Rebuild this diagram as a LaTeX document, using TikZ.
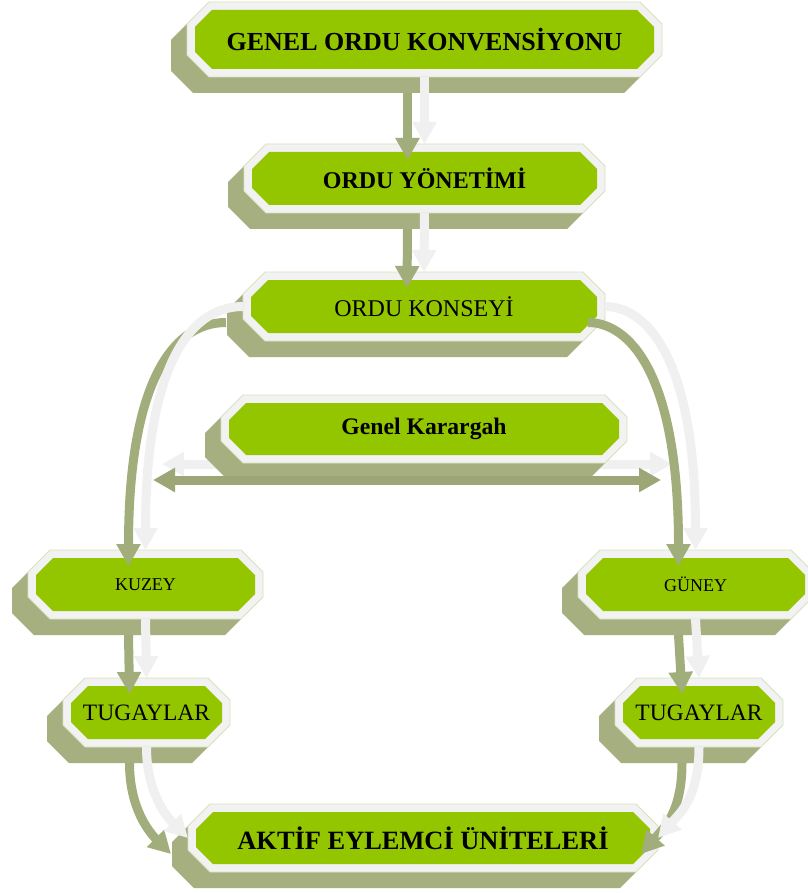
\documentclass[tikz,border=0pt]{standalone}
\usepackage{fontspec}
\setmainfont{Liberation Serif}
\usetikzlibrary{arrows.meta,calc,backgrounds}
\definecolor{boxgreen}{RGB}{148,198,0}
\definecolor{rimwhite}{RGB}{242,242,242}
\definecolor{rimedge}{RGB}{214,227,188}
\definecolor{shadowolive}{RGB}{165,175,127}
\definecolor{arrowolive}{RGB}{162,173,124}
\definecolor{arrowwhite}{RGB}{240,240,240}
\tikzset{
  bigtri/.tip={Triangle[length=22pt,width=23pt]},
  box/.style={rectangle, inner sep=0pt, outer sep=0pt, align=center},
  whitearrow/.style={draw=arrowwhite, line width=9pt, -bigtri},
  olivearrow/.style={draw=arrowolive, line width=9pt, -bigtri},
}
% #1 style, #2 node, #3 inset, #4 chamfer leg, #5 x offset, #6 y offset
\newcommand\octfill[6]{\path[#1]
  ($(#2.north west)+({#5+#3+#4},{#6+#3})$) -- ($(#2.north east)+({#5-#3-#4},{#6+#3})$) --
  ($(#2.north east)+({#5-#3},{#6+#3+#4})$) -- ($(#2.south east)+({#5-#3},{#6-#3-#4})$) --
  ($(#2.south east)+({#5-#3-#4},{#6-#3})$) -- ($(#2.south west)+({#5+#3+#4},{#6-#3})$) --
  ($(#2.south west)+({#5+#3},{#6-#3-#4})$) -- ($(#2.north west)+({#5+#3},{#6+#3+#4})$) -- cycle;}
\newcommand\boxdeco[1]{%
  \octfill{fill=shadowolive}{#1}{0}{22}{-16}{16}%
  \octfill{fill=rimwhite, draw=rimedge, line width=0.8pt}{#1}{0}{22}{0}{0}%
  \octfill{fill=boxgreen}{#1}{8}{17}{0}{0}}
\newcommand\conn[1]{%
  \draw[olivearrow, transform canvas={xshift=-17pt,yshift=-16pt}] #1;
  \draw[whitearrow] #1;}
\begin{document}
\begin{tikzpicture}[x=1pt,y=-1pt]
\useasboundingbox (0,0) rectangle (807,893);
% nodes
\node[box, minimum width=475pt, minimum height=75pt, font=\fontsize{26}{30}\selectfont\bfseries] (n1) at (424.5,39.5) {GENEL ORDU KONVENSİYONU};
\node[box, minimum width=361pt, minimum height=69pt, font=\fontsize{24}{28}\selectfont\bfseries] (n2) at (424.5,178.5) {ORDU YÖNETİMİ};
\node[box, minimum width=362pt, minimum height=69pt, font=\fontsize{24}{28}\selectfont] (n3) at (424,306.5) {ORDU KONSEYİ};
\node[box, minimum width=406pt, minimum height=68pt, font=\fontsize{23.7}{28}\selectfont\bfseries] (n4) at (424,429) {Genel Karargah};
\node[box, minimum width=235pt, minimum height=69pt, font=\fontsize{18}{22}\selectfont] (n5) at (145.5,584.5) {KUZEY};
\node[box, minimum width=167pt, minimum height=69pt, font=\fontsize{23.5}{28}\selectfont] (n6) at (146.5,712.5) {TUGAYLAR};
\node[box, minimum width=235pt, minimum height=69pt, font=\fontsize{18}{22}\selectfont] (n7) at (695.5,584.5) {GÜNEY};
\node[box, minimum width=168pt, minimum height=69pt, font=\fontsize{23.5}{28}\selectfont] (n8) at (699,712.5) {TUGAYLAR};
\node[box, minimum width=470pt, minimum height=68pt, font=\fontsize{26.4}{30}\selectfont\bfseries] (n9) at (423,838) {AKTİF EYLEMCİ ÜNİTELERİ};
% free ends of the double arrow
\coordinate (hwl) at (162,464);
\coordinate (hwr) at (672,464);
\coordinate (hol) at (153,480);
\coordinate (hor) at (661,480);
\begin{pgfonlayer}{background}
  \fill[white] (0,0) rectangle (807,893);
  \draw[draw=arrowwhite, line width=9pt, bigtri-bigtri] (hwl) -- (hwr);
  \boxdeco{n1}
  \boxdeco{n2}
  \boxdeco{n3}
  \boxdeco{n4}
  \boxdeco{n5}
  \boxdeco{n6}
  \boxdeco{n7}
  \boxdeco{n8}
  \boxdeco{n9}
  \draw[draw=arrowolive!96!black, line width=9pt, bigtri-bigtri] (hol) -- (hor);
\end{pgfonlayer}
% connectors
\conn{(n1.south) -- (n2.north)}
\conn{(n2.south) -- (n3.north)}
\conn{(n3.west) .. controls +(-55,0) and +(0,-180) .. (n5.north)}
\conn{(n3.east) .. controls +(40,0) and +(0,-195) .. (n7.north)}
\conn{(n5.south) -- (n6.north)}
\conn{(n7.south) -- (n8.north)}
\conn{(n6.south) .. controls +(0,45) and +(-22,-22) .. (n9.west)}
\conn{(n8.south) .. controls +(0,50) and +(22,-25) .. (n9.east)}
\end{tikzpicture}
\end{document}
